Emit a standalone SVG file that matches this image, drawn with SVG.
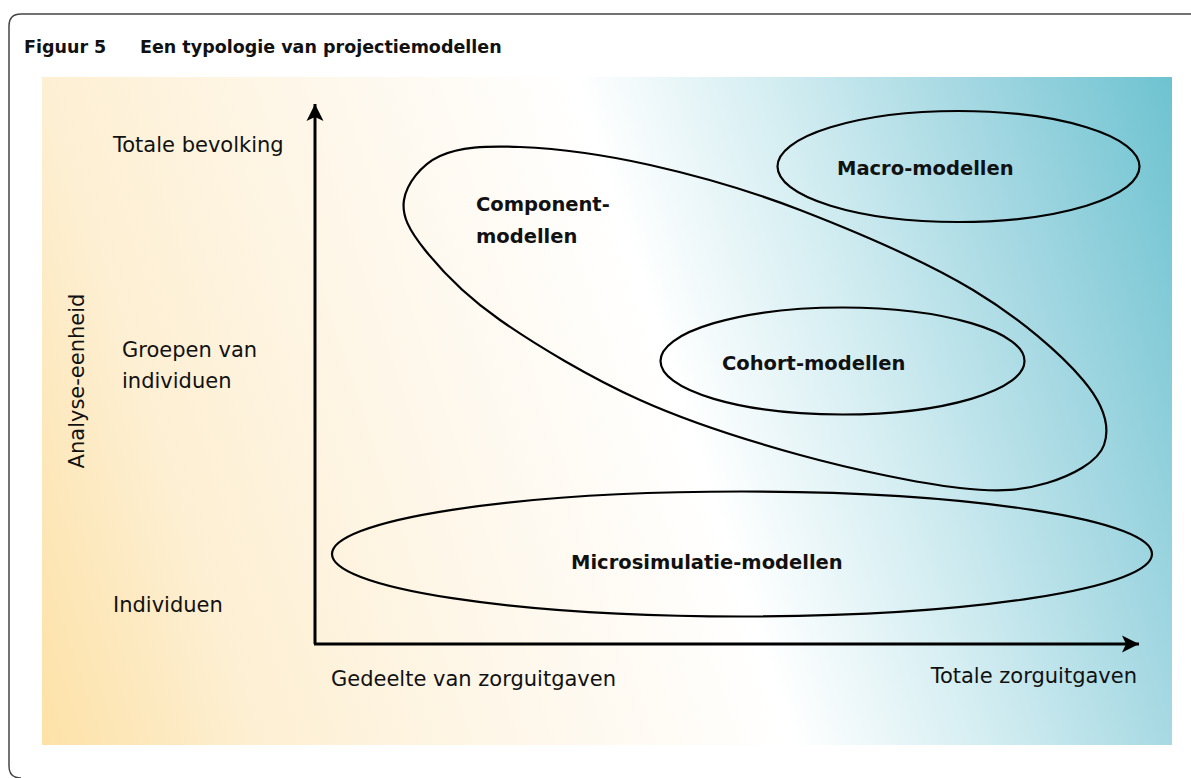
<svg xmlns="http://www.w3.org/2000/svg" width="1191" height="778" viewBox="0 0 1191 778">
  <defs>
    <linearGradient id="bg" gradientUnits="userSpaceOnUse" x1="-2" y1="622" x2="1216" y2="221">
      <stop offset="0" stop-color="#fde1a6"/>
      <stop offset="0.16" stop-color="#fdefd2"/>
      <stop offset="0.36" stop-color="#fef7ea"/>
      <stop offset="0.56" stop-color="#ffffff"/>
      <stop offset="0.70" stop-color="#d5eef2"/>
      <stop offset="0.84" stop-color="#a7d9e3"/>
      <stop offset="1" stop-color="#6fc3d1"/>
    </linearGradient>
    <marker id="arrow" viewBox="0 0 18 18" refX="17" refY="9" markerWidth="18" markerHeight="18" markerUnits="userSpaceOnUse" orient="auto">
      <path d="M0,0.5 L17,9 L0,17.5 L4,9 Z" fill="#000"/>
    </marker>
    <style>
      .lbl { font-family: "DejaVu Sans", "Liberation Sans", sans-serif; font-size: 21px; fill: #111; }
      .bold { font-family: "DejaVu Sans", "Liberation Sans", sans-serif; font-size: 19.5px; font-weight: bold; fill: #111; }
      .title { font-family: "DejaVu Sans", "Liberation Sans", sans-serif; font-size: 17.5px; font-weight: bold; fill: #111; }
      .shape { fill: none; stroke: #000; stroke-width: 2.2; }
      .axis { fill: none; stroke: #000; stroke-width: 3; }
    </style>
  </defs>

  <path d="M1191,14 H21 Q9,14 9,26 V766 Q9,778 21,778" fill="none" stroke="#444" stroke-width="1.5"/>
  <text class="title" x="24" y="53">Figuur 5</text>
  <text class="title" x="140" y="53">Een typologie van projectiemodellen</text>

  <rect x="42" y="77" width="1130" height="668" fill="url(#bg)"/>

  <g id="connectors">
    <line class="axis" x1="315" y1="644" x2="315" y2="104" marker-end="url(#arrow)"/>
    <line class="axis" x1="314" y1="644" x2="1139" y2="644" marker-end="url(#arrow)"/>
  </g>

  <g id="axis-labels">
    <text class="lbl" x="113" y="152">Totale bevolking</text>
    <text class="lbl" x="122" y="357">Groepen van</text>
    <text class="lbl" x="122" y="388">individuen</text>
    <text class="lbl" x="113" y="612">Individuen</text>
    <text class="lbl" transform="translate(84,381) rotate(-90)" text-anchor="middle">Analyse-eenheid</text>
    <text class="lbl" x="331" y="686">Gedeelte van zorguitgaven</text>
    <text class="lbl" x="1137" y="683" text-anchor="end">Totale zorguitgaven</text>
  </g>

  <g id="component">
    <path class="shape" d="M404,200 C406.5,184.33 420.67,164.83 440,156 C459.33,147.17 485,145.5 520,147 C555,148.5 603.33,154.5 650,165 C696.67,175.5 746.17,189.17 800,210 C853.83,230.83 925.83,261.67 973,290 C1020.17,318.33 1061.17,354.17 1083,380 C1104.83,405.83 1110,427.83 1104,445 C1098,462.17 1071,475.83 1047,483 C1023,490.17 1001.17,492.67 960,488 C918.83,483.33 853.33,469.67 800,455 C746.67,440.33 690,422.5 640,400 C590,377.5 535.83,345 500,320 C464.17,295 441,270 425,250 C409,230 401.5,215.67 404,200 Z"/>
    <text class="bold" x="476" y="211">Component-</text>
    <text class="bold" x="476" y="243">modellen</text>
  </g>

  <g id="macro">
    <ellipse class="shape" cx="958.5" cy="166.5" rx="181" ry="55.5"/>
    <text class="bold" x="837" y="175">Macro-modellen</text>
  </g>

  <g id="cohort">
    <ellipse class="shape" cx="842.5" cy="361" rx="182" ry="53.5"/>
    <text class="bold" x="722" y="370">Cohort-modellen</text>
  </g>

  <g id="microsimulatie">
    <ellipse class="shape" cx="742" cy="554" rx="410" ry="62.5"/>
    <text class="bold" x="571" y="569">Microsimulatie-modellen</text>
  </g>
</svg>
